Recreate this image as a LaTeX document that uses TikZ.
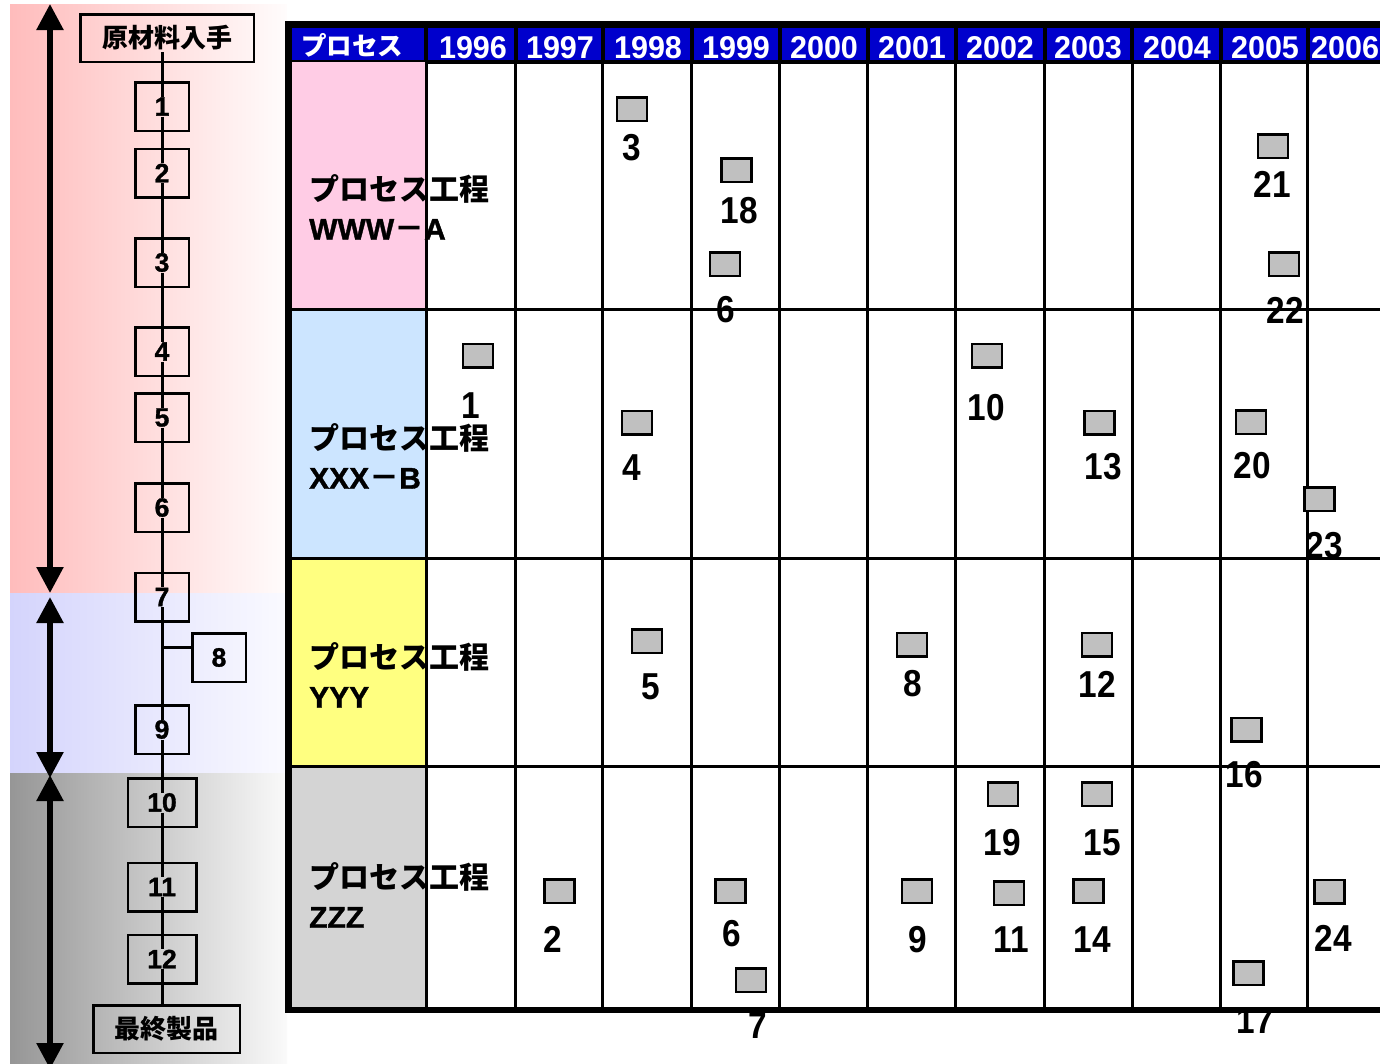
\documentclass[tikz,border=0pt]{standalone}
\usepackage{fontspec}
\setmainfont{Liberation Sans}
\newfontfamily\jp{Noto Sans CJK JP}
\newfontfamily\numf{Liberation Sans}[FakeStretch=0.89]
\newfontfamily\hnum{Liberation Sans}[FakeStretch=0.97]
\newfontfamily\heavy{Liberation Sans}[FakeBold=1.2]
\usetikzlibrary{arrows.meta}
\pgfdeclarelayer{bands}
\pgfdeclarelayer{lines}
\pgfsetlayers{bands,lines,main}
\definecolor{hdrblue}{RGB}{0,0,204}
\definecolor{cellpink}{RGB}{255,204,229}
\definecolor{cellblue}{RGB}{204,229,255}
\definecolor{cellyellow}{RGB}{255,255,128}
\definecolor{cellgray}{RGB}{212,212,212}
\definecolor{mkgray}{RGB}{192,192,192}
\definecolor{bandpink}{RGB}{255,188,188}
\definecolor{bandpinkR}{RGB}{255,252,252}
\definecolor{bandlav}{RGB}{212,212,252}
\definecolor{bandlavR}{RGB}{250,250,255}
\definecolor{bandgray}{RGB}{150,150,150}
\definecolor{bandgrayR}{RGB}{250,250,250}
\begin{document}
\begin{tikzpicture}[x=1pt,y=-1pt,
  procbox/.style={draw=black, line width=2.5pt, inner sep=0pt, minimum width=53.5pt, minimum height=48.5pt,
    font=\heavy\bfseries\fontsize{26.5}{28}\selectfont},
  widebox/.style={procbox, minimum width=68.5pt},
  endbox/.style={procbox, font=\jp\bfseries\fontsize{26}{28}\selectfont, minimum height=47.5pt},
  conn/.style={line width=3pt, black},
  bigarrow/.style={line width=5.5pt, arrows={Triangle[length=26pt,width=26pt]-Triangle[length=26pt,width=26pt]}},
  mk/.style={draw=black, fill=mkgray, line width=2.5pt, minimum width=30pt, minimum height=23.5pt, inner sep=0pt},
  lab/.style={anchor=base, inner sep=0pt, font=\numf\bfseries\fontsize{37.5}{40}\selectfont},
  hdr/.style={anchor=base, inner sep=0pt, text=white, font=\hnum\bfseries\fontsize{31.5}{34}\selectfont},
  rowlab/.style={anchor=north west, inner sep=0pt, align=left, font=\bfseries\fontsize{30}{39.5}\selectfont},
  gridline/.style={line width=3pt, black}
]
\useasboundingbox (0,0) rectangle (1380,1063);
\clip (0,0) rectangle (1380,1063);

% ---------- left background bands and arrows ----------
\begin{pgfonlayer}{bands}
\shade[left color=bandpink, right color=bandpinkR] (10,4) rectangle (287,593);
\shade[left color=bandlav, right color=bandlavR] (10,593) rectangle (287,773);
\shade[left color=bandgray, right color=bandgrayR] (10,773) rectangle (287,1063);
\coordinate (a1t) at (50,4);   \coordinate (a1b) at (50,593);
\coordinate (a2t) at (50,597); \coordinate (a2b) at (50,778);
\coordinate (a3t) at (50,775); \coordinate (a3b) at (50,1069);
\draw[bigarrow] (a1t) -- (a1b);
\draw[bigarrow] (a2t) -- (a2b);
\draw[bigarrow] (a3t) -- (a3b);
\end{pgfonlayer}

% ---------- process flow boxes ----------
\node[endbox, minimum width=173.5pt] (n0) at (167,38) {原材料入手};
\node[procbox] (n1) at (162,106.5) {1};
\node[procbox] (n2) at (162,173) {2};
\node[procbox] (n3) at (162,262.5) {3};
\node[procbox] (n4) at (162,351.5) {4};
\node[procbox] (n5) at (162,417.5) {5};
\node[procbox] (n6) at (162,507.5) {6};
\node[procbox] (n7) at (162,597) {7};
\node[procbox] (n8) at (219,657.5) {8};
\node[procbox] (n9) at (162,729.5) {9};
\node[widebox] (n10) at (162,802.5) {10};
\node[widebox] (n11) at (162,887) {11};
\node[widebox] (n12) at (162,959) {12};
\node[endbox, minimum width=146.5pt] (nF) at (166.5,1029) {最終製品};

\begin{pgfonlayer}{lines}
\draw[conn] ([yshift=-14pt]n1.center |- n0.center) -- ([yshift=10pt]n1.center);
\foreach \a/\b in {n1/n2, n2/n3, n3/n4, n4/n5, n5/n6, n6/n7, n7/n9, n9/n10, n10/n11, n11/n12}
  \draw[conn] ([yshift=-10pt]\a.center) -- ([yshift=10pt]\b.center);
\draw[conn] ([yshift=-10pt]n12.center) -- (n12.center |- nF.north);
\draw[conn] ([yshift=10.5pt]n8.west) -- ([yshift=10.5pt]n8.west -| n9.center);
\end{pgfonlayer}

% ---------- table: header ----------
\fill[black] (285,21) rectangle (1382,64);
\foreach \a/\b in {292/424, 428/513.5, 517.5/600.5, 604.5/689.5, 693.5/777.5, 781.5/865.5,
                   869.5/953.5, 957.5/1042.5, 1046.5/1130, 1134/1218.5, 1222.5/1305.5, 1309.5/1382}
  \fill[hdrblue] (\a,28) rectangle (\b,60);

% ---------- table: label column fills ----------
\fill[cellpink]   (292,62)    rectangle (426,309.5);
\fill[cellblue]   (292,309.5) rectangle (426,558);
\fill[cellyellow] (292,558)   rectangle (426,766);
\fill[cellgray]   (292,766)   rectangle (426,1008);

% ---------- table: grid ----------
\foreach \x in {426,515.5,602.5,691.5,779.5,867.5,955.5,1044.5,1132,1220.5,1307.5}
  \draw[gridline] (\x,62) -- (\x,1008);
\foreach \y in {309.5,558,766}
  \draw[gridline] (290,\y) -- (1382,\y);
\fill[black] (285,21) rectangle (292,1013);
\fill[black] (285,1007) rectangle (1382,1013);

% ---------- header texts ----------
\node[anchor=center, inner sep=0pt, text=white, font=\jp\bfseries\fontsize{25.5}{28}\selectfont] (h0) at (352,45) {プロセス};
\node[hdr] (h1) at (473,58) {1996};
\node[hdr] (h2) at (560,58) {1997};
\node[hdr] (h3) at (648,58) {1998};
\node[hdr] (h4) at (736,58) {1999};
\node[hdr] (h5) at (824,58) {2000};
\node[hdr] (h6) at (912,58) {2001};
\node[hdr] (h7) at (1000,58) {2002};
\node[hdr] (h8) at (1088,58) {2003};
\node[hdr] (h9) at (1177,58) {2004};
\node[hdr] (h10) at (1265,58) {2005};
\node[hdr, anchor=base west] (h11) at (1311,58) {2006};

% ---------- row labels ----------
\node[rowlab] (r1) at (309,174) {{\jp プロセス工程}\\{\heavy\bfseries WWW}{\jp －}{\heavy\bfseries A}};
\node[rowlab] (r2) at (309,423) {{\jp プロセス工程}\\{\heavy\bfseries XXX}{\jp －}{\heavy\bfseries B}};
\node[rowlab] (r3) at (309,642) {{\jp プロセス工程}\\{\heavy\bfseries YYY}};
\node[rowlab] (r4) at (309,862) {{\jp プロセス工程}\\{\heavy\bfseries ZZZ}};

% ---------- markers ----------
\node[mk] (m3)  at (632,109) {};    \node[lab] (t3)  at (632,160) {3};
\node[mk] (m18) at (736.5,170) {};  \node[lab] (t18) at (739.5,223) {18};
\node[mk] (m6a) at (725,264) {};    \node[lab] (t6a) at (726,322) {6};
\node[mk] (m21) at (1273,146) {};   \node[lab] (t21) at (1272,197) {21};
\node[mk] (m22) at (1284,264) {};   \node[lab] (t22) at (1285,323) {22};

\node[mk] (m1)  at (478,355.5) {};  \node[lab] (t1)  at (471,418) {1};
\node[mk] (m4)  at (637,422.5) {};  \node[lab] (t4)  at (632,480) {4};
\node[mk] (m10) at (987,355.5) {};  \node[lab] (t10) at (986.5,420) {10};
\node[mk] (m13) at (1099.5,422.5) {}; \node[lab] (t13) at (1103,479) {13};
\node[mk] (m20) at (1251,422) {};   \node[lab] (t20) at (1252,478) {20};
\node[mk] (m23) at (1319.5,499) {}; \node[lab] (t23) at (1324.5,558) {23};

\node[mk] (m5)  at (647,641) {};    \node[lab] (t5)  at (651,699) {5};
\node[mk] (m8)  at (912,644.5) {};  \node[lab] (t8)  at (912.5,696) {8};
\node[mk] (m12) at (1097,644.5) {}; \node[lab] (t12) at (1097,697) {12};
\node[mk] (m16) at (1246.5,729.5) {}; \node[lab] (t16) at (1244,787) {16};

\node[mk] (m19) at (1003,794) {};   \node[lab] (t19) at (1002.5,855) {19};
\node[mk] (m15) at (1097,794) {};   \node[lab] (t15) at (1102,855) {15};
\node[mk] (m2)  at (559.5,891) {};  \node[lab] (t2)  at (552.5,952) {2};
\node[mk] (m6b) at (730.5,891) {};  \node[lab] (t6b) at (732,946) {6};
\node[mk] (m9)  at (917,891) {};    \node[lab] (t9)  at (918,952) {9};
\node[mk] (m11) at (1009,893) {};   \node[lab] (t11) at (1011.5,952) {11};
\node[mk] (m14) at (1088.5,891) {}; \node[lab] (t14) at (1092.5,952) {14};
\node[mk] (m24) at (1329.5,891.5) {}; \node[lab] (t24) at (1333,951) {24};
\node[mk] (m7)  at (751,980) {};    \node[lab] (t7)  at (757.5,1038) {7};
\node[mk] (m17) at (1248.5,973) {}; \node[lab] (t17) at (1255,1033) {17};
\end{tikzpicture}
\end{document}
